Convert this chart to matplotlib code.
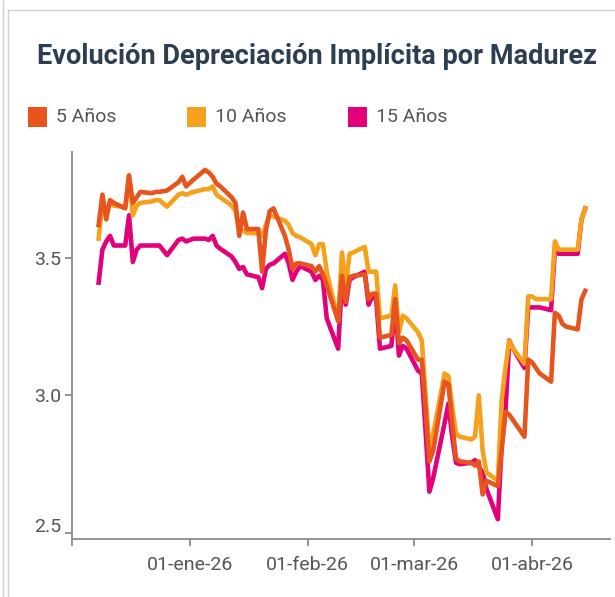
import matplotlib
matplotlib.use("Agg")
import matplotlib.pyplot as plt
import matplotlib.transforms as mtransforms
from matplotlib.patches import Rectangle
from matplotlib.lines import Line2D
import pandas as pd

plt.rcParams['font.family'] = ['Roboto', 'DejaVu Sans']

# Trading days (Dec 25 and Jan 1 closed)
dates = pd.bdate_range('2025-12-08', '2026-04-15', freq='C',
                       holidays=['2025-12-25', '2026-01-01'])

y5 = [3.62, 3.73, 3.64, 3.71, 3.70, 3.68, 3.80, 3.70, 3.72, 3.74, 3.735, 3.74, 3.74, 3.745, 3.775, 3.795, 3.76,
      3.785, 3.82, 3.81, 3.795, 3.77, 3.76, 3.72, 3.70, 3.58, 3.665, 3.605, 3.605, 3.45, 3.60, 3.67, 3.68, 3.58, 3.53, 3.46, 3.48, 3.48,
      3.47, 3.45, 3.47, 3.44, 3.40, 3.27, 3.435, 3.34, 3.43, 3.435, 3.44, 3.35, 3.37, 3.37, 3.21, 3.22, 3.35, 3.19, 3.21, 3.20,
      3.13, 3.13, 2.95, 2.76, 2.80, 3.05, 3.04, 2.90, 2.77, 2.76, 2.755, 2.745, 2.76, 2.64, 2.69, 2.67, 2.80, 2.94, 2.93, 2.91, 2.85, 3.13,
      3.12, 3.10, 3.08, 3.05, 3.30, 3.29, 3.26, 3.25, 3.24, 3.35, 3.38]

y10 = [3.57, 3.70, 3.66, 3.70, 3.69, 3.685, 3.80, 3.655, 3.69, 3.70, 3.705, 3.71, 3.71, 3.686, 3.73, 3.735, 3.73,
       3.74, 3.75, 3.75, 3.76, 3.73, 3.72, 3.69, 3.67, 3.60, 3.60, 3.59, 3.59, 3.58, 3.62, 3.655, 3.65, 3.635, 3.62, 3.59, 3.58, 3.575,
       3.55, 3.51, 3.55, 3.55, 3.45, 3.27, 3.52, 3.40, 3.515, 3.52, 3.54, 3.45, 3.45, 3.45, 3.28, 3.29, 3.40, 3.23, 3.29, 3.28,
       3.23, 3.20, 3.00, 2.80, 2.86, 3.08, 3.07, 2.96, 2.86, 2.85, 2.84, 2.85, 3.00, 2.80, 2.72, 2.69, 2.98, 3.10, 3.20, 3.17, 3.115, 3.36,
       3.36, 3.35, 3.35, 3.35, 3.56, 3.53, 3.53, 3.53, 3.53, 3.64, 3.68]

y15 = [3.41, 3.53, 3.56, 3.58, 3.545, 3.545, 3.655, 3.485, 3.53, 3.545, 3.545, 3.545, 3.545, 3.51, 3.565, 3.57, 3.56,
       3.57, 3.57, 3.565, 3.58, 3.545, 3.533, 3.505, 3.485, 3.46, 3.467, 3.44, 3.43, 3.39, 3.46, 3.475, 3.48, 3.515, 3.48, 3.42, 3.45, 3.47,
       3.45, 3.42, 3.435, 3.42, 3.28, 3.17, 3.42, 3.33, 3.42, 3.43, 3.45, 3.33, 3.36, 3.35, 3.17, 3.18, 3.33, 3.145, 3.18, 3.17,
       3.09, 3.08, 2.87, 2.65, 2.70, 2.90, 2.97, 2.85, 2.755, 2.75, 2.755, 2.765, 2.74, 2.72, 2.66, 2.55, 2.82, 2.94, 3.20, 3.17, 3.10, 3.32,
       3.32, 3.32, 3.32, 3.31, 3.53, 3.515, 3.515, 3.515, 3.515, 3.64, 3.68]

labels = ['5 Años', '10 Años', '15 Años']
colors = ['#E8541E', '#F5A11C', '#E3007B']

tick_dates = ['2025-12-01', '2026-01-01', '2026-02-01', '2026-03-01', '2026-04-01']
tick_labels = ['', '01-ene-26', '01-feb-26', '01-mar-26', '01-abr-26']
y_ticks = [2.5, 3.0, 3.5]

W, H = 615, 597
fig = plt.figure(figsize=(W / 100, H / 100), dpi=100)


def fx(px):
    return px / W


def fy(py):
    return 1 - py / H


# card borders
fig.add_artist(Line2D([fx(3), fx(3)], [0, 1], color='#d0d0d0', lw=1))
fig.add_artist(Line2D([fx(8), fx(8)], [0, fy(10)], color='#d0d0d0', lw=1))
fig.add_artist(Line2D([fx(8), 1], [fy(10), fy(10)], color='#d0d0d0', lw=1))

ax = fig.add_axes([fx(72), fy(539), fx(610) - fx(72), fy(152) - fy(539)])

# draw order: 15 first, 5 on top
for series, c in [(y15, colors[2]), (y10, colors[1]), (y5, colors[0])]:
    ax.plot(dates, series, color=c, lw=3.3, solid_joinstyle='round')

ax.set_xlim(pd.Timestamp('2025-12-01'), pd.Timestamp('2026-04-21 12:00'))
ax.set_ylim(2.478, 3.885)

ax.set_xticks(pd.to_datetime(tick_dates))
ax.set_xticklabels(tick_labels)
ax.set_yticks(y_ticks)
ax.set_yticklabels([f'{v:.1f}' for v in y_ticks])

for s in ['top', 'right']:
    ax.spines[s].set_visible(False)
for s in ['left', 'bottom']:
    ax.spines[s].set_color('#8a8a8a')
    ax.spines[s].set_linewidth(1.3)
ax.tick_params(axis='both', colors='#8a8a8a', length=5, width=1.3,
               labelcolor='#555555', labelsize=14)
ax.tick_params(axis='x', pad=7)
ax.tick_params(axis='y', pad=3)

# lowest y label sits a little above its tick in the original
lbl = ax.get_yticklabels()[0]
lbl.set_transform(lbl.get_transform() +
                  mtransforms.ScaledTranslation(0, 6 / 72, fig.dpi_scale_trans))

fig.text(fx(317), fy(57), 'Evolución Depreciación Implícita por Madurez',
         ha='center', va='center', fontsize=19.5, fontweight='bold', color='#2C3E50')

# legend
leg_x = [28, 187, 348]
for x0, lab, c in zip(leg_x, labels, colors):
    fig.add_artist(Rectangle((fx(x0), fy(127)), fx(19), fy(107) - fy(127),
                             transform=fig.transFigure, facecolor=c, edgecolor='none'))
    fig.text(fx(x0 + 28), fy(117), lab, ha='left', va='center',
             fontsize=14, color='#555555')

fig.savefig('out.png', dpi=100)
